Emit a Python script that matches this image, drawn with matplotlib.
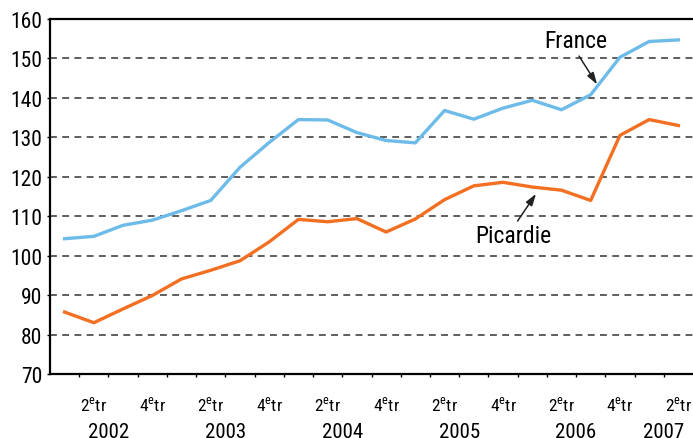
import matplotlib
matplotlib.use("Agg")
import matplotlib.pyplot as plt

# Font setup (condensed look)
plt.rcParams['font.family'] = ['Roboto Condensed', 'DejaVu Sans']
plt.rcParams['mathtext.fontset'] = 'custom'
plt.rcParams['mathtext.rm'] = 'Roboto Condensed'

# Data: quarterly index, 2002 Q1 to 2007 Q2
france = [104.3, 104.9, 107.7, 109.0, 111.4, 114.0, 122.4, 128.7, 134.5, 134.4, 131.2,
          129.2, 128.6, 136.8, 134.6, 137.4, 139.4, 137.0, 140.8, 150.3, 154.3, 154.7]
picardie = [85.7, 83.0, 86.5, 89.9, 94.1, 96.3, 98.7, 103.5, 109.2, 108.6, 109.4,
            106.0, 109.3, 114.2, 117.7, 118.6, 117.4, 116.6, 114.0, 130.5, 134.5, 133.0]
quarter_labels = ['2$^{\\mathrm{e}}$tr', '4$^{\\mathrm{e}}$tr']
years = ['2002', '2003', '2004', '2005', '2006', '2007']
y_ticks = [70, 80, 90, 100, 110, 120, 130, 140, 150, 160]

fig = plt.figure(figsize=(6.93, 4.39), dpi=100)
ax = fig.add_axes([50 / 693, 1 - 375 / 439, 643 / 693, 355 / 439])

x = list(range(len(france)))
ax.plot(x, france, color='#6dbbe8', lw=2.4)
ax.plot(x, picardie, color='#f36f21', lw=2.4)

ax.set_xlim(-0.5, len(france) - 0.5)
ax.set_ylim(70, 160)
ax.set_yticks(y_ticks)
ax.set_yticklabels([str(v) for v in y_ticks], fontsize=15.5)
ax.tick_params(axis='y', length=2.5, width=1, pad=3)

# gridlines
for v in y_ticks[1:-1]:
    ax.axhline(v, color='#333333', lw=1.1, ls=(0, (4.5, 3.5)), zorder=0)

# x ticks at quarter boundaries, labels at every other quarter
ax.set_xticks([i + 0.5 for i in range(len(france) - 1)])
ax.set_xticklabels([])
ax.tick_params(axis='x', length=2.5, width=1, direction='out')
for i in range(1, len(france), 2):
    lab = quarter_labels[((i - 1) // 2) % 2]
    ax.text(i, -0.085, lab, transform=ax.get_xaxis_transform(),
            ha='center', va='center', fontsize=12.5, clip_on=False)
for k, yr in enumerate(years):
    xpos = 4 * k + 1.5 if k < 5 else 20.5
    ax.text(xpos, -0.162, yr, transform=ax.get_xaxis_transform(),
            ha='center', va='center', fontsize=15, clip_on=False)

for side in ['left', 'top', 'bottom']:
    ax.spines[side].set_linewidth(1.6)
ax.spines['right'].set_visible(False)

# labels with arrows
ax.text(17.5, 154.6, 'France', fontsize=17, ha='center', va='center')
ax.annotate('', xy=(18.22, 143.4), xytext=(17.6, 150.6),
            arrowprops=dict(arrowstyle='-|>,head_length=0.7,head_width=0.22',
                            color='#222222', lw=1.1, shrinkA=0, shrinkB=0))
ax.text(15.34, 105.2, 'Picardie', fontsize=17, ha='center', va='center')
ax.annotate('', xy=(16.13, 115.7), xytext=(15.5, 108.8),
            arrowprops=dict(arrowstyle='-|>,head_length=0.7,head_width=0.22',
                            color='#222222', lw=1.1, shrinkA=0, shrinkB=0))

fig.savefig('out.png', dpi=100)
